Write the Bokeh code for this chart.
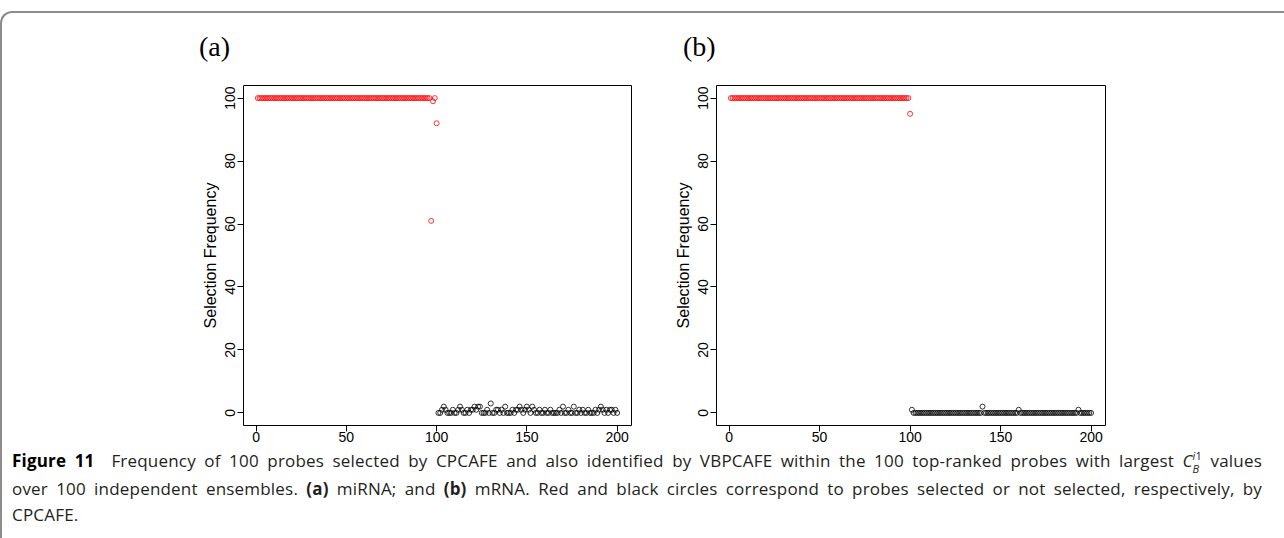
import numpy as np
from bokeh.plotting import figure
from bokeh.models import Div, FixedTicker, Range1d
from bokeh.layouts import column, row
from bokeh.embed import file_html
from bokeh.resources import INLINE

# ---------------- data ----------------
x_red = list(range(1, 101))
x_black = list(range(101, 201))

red_a = [100, 100, 100, 100, 100, 100, 100, 100, 100, 100,
         100, 100, 100, 100, 100, 100, 100, 100, 100, 100,
         100, 100, 100, 100, 100, 100, 100, 100, 100, 100,
         100, 100, 100, 100, 100, 100, 100, 100, 100, 100,
         100, 100, 100, 100, 100, 100, 100, 100, 100, 100,
         100, 100, 100, 100, 100, 100, 100, 100, 100, 100,
         100, 100, 100, 100, 100, 100, 100, 100, 100, 100,
         100, 100, 100, 100, 100, 100, 100, 100, 100, 100,
         100, 100, 100, 100, 100, 100, 100, 100, 100, 100,
         100, 100, 100, 100, 100, 100, 61, 99, 100, 92]
black_a = [0, 0, 1, 2, 1, 0, 0, 0, 1, 0,
           0, 1, 2, 1, 0, 0, 1, 0, 1, 1,
           2, 1, 2, 2, 0, 0, 0, 1, 0, 3,
           0, 0, 1, 1, 0, 1, 0, 2, 0, 0,
           0, 1, 0, 1, 1, 2, 1, 0, 1, 2,
           1, 0, 2, 1, 0, 0, 1, 0, 0, 1,
           0, 0, 1, 0, 0, 0, 0, 1, 0, 2,
           0, 0, 1, 0, 0, 2, 0, 0, 1, 0,
           1, 0, 0, 1, 0, 0, 0, 1, 0, 1,
           2, 1, 0, 1, 0, 1, 1, 0, 1, 0]
red_b = [100, 100, 100, 100, 100, 100, 100, 100, 100, 100,
         100, 100, 100, 100, 100, 100, 100, 100, 100, 100,
         100, 100, 100, 100, 100, 100, 100, 100, 100, 100,
         100, 100, 100, 100, 100, 100, 100, 100, 100, 100,
         100, 100, 100, 100, 100, 100, 100, 100, 100, 100,
         100, 100, 100, 100, 100, 100, 100, 100, 100, 100,
         100, 100, 100, 100, 100, 100, 100, 100, 100, 100,
         100, 100, 100, 100, 100, 100, 100, 100, 100, 100,
         100, 100, 100, 100, 100, 100, 100, 100, 100, 100,
         100, 100, 100, 100, 100, 100, 100, 100, 100, 95]
black_b = [1, 0, 0, 0, 0, 0, 0, 0, 0, 0,
           0, 0, 0, 0, 0, 0, 0, 0, 0, 0,
           0, 0, 0, 0, 0, 0, 0, 0, 0, 0,
           0, 0, 0, 0, 0, 0, 0, 0, 0, 2,
           0, 0, 0, 0, 0, 0, 0, 0, 0, 0,
           0, 0, 0, 0, 0, 0, 0, 0, 0, 1,
           0, 0, 0, 0, 0, 0, 0, 0, 0, 0,
           0, 0, 0, 0, 0, 0, 0, 0, 0, 0,
           0, 0, 0, 0, 0, 0, 0, 0, 0, 0,
           0, 0, 1, 0, 0, 0, 0, 0, 0, 0]

x_ticks = [0, 50, 100, 150, 200]
y_ticks = [0, 20, 40, 60, 80, 100]
panel_labels = ["(a)", "(b)"]
y_label = "Selection Frequency"

AX_FONT = "Liberation Sans"


def make_panel(red, black, width, height, bl, br, bt, bb):
    p = figure(width=width, height=height, title=None,
               x_range=Range1d(-6.96, 207.96), y_range=Range1d(-4, 104),
               output_backend="svg", toolbar_location=None,
               min_border_left=bl, min_border_right=br,
               min_border_top=bt, min_border_bottom=bb)
    p.grid.visible = False
    p.outline_line_color = "black"
    p.outline_line_width = 1
    p.background_fill_color = "white"
    p.border_fill_color = "white"

    for ax in (p.xaxis[0], p.yaxis[0]):
        ax.axis_line_color = None
        ax.major_tick_line_color = "black"
        ax.major_tick_in = 0
        ax.major_tick_out = 6
        ax.minor_tick_line_color = None
        ax.major_label_text_font = AX_FONT
        ax.major_label_text_font_size = "14px"
        ax.major_label_text_color = "black"
    p.xaxis.ticker = FixedTicker(ticks=x_ticks)
    p.yaxis.ticker = FixedTicker(ticks=y_ticks)
    p.xaxis.major_label_standoff = 0
    p.yaxis.major_label_standoff = 2
    p.yaxis.major_label_orientation = "vertical"
    p.yaxis.axis_label = y_label
    p.yaxis.axis_label_text_font = AX_FONT
    p.yaxis.axis_label_text_font_size = "16px"
    p.yaxis.axis_label_text_font_style = "normal"
    p.yaxis.axis_label_text_color = "black"
    p.yaxis.axis_label_standoff = 4

    p.scatter(x_red, red, marker="circle", size=5, fill_color=None,
              line_color="#ff0000", line_width=0.8)
    p.scatter(x_black, black, marker="circle", size=5, fill_color=None,
              line_color="black", line_width=0.8)
    return p


TOP_H = 50
fa = make_panel(red_a, black_a, 660, 435 - TOP_H, 241, 31, 72 - TOP_H, 23)
fb = make_panel(red_b, black_b, 622, 435 - TOP_H, 54, 179, 72 - TOP_H, 23)

labels_html = (
    f'<div style="position:relative;width:1270px;height:{TOP_H}px;'
    'font-family:\'Liberation Serif\';font-size:28px;line-height:1;color:#000;">'
    f'<span style="position:absolute;left:197px;top:20px;">{panel_labels[0]}</span>'
    f'<span style="position:absolute;left:681px;top:20px;">{panel_labels[1]}</span>'
    '</div>'
)
top = Div(text=labels_html, width=1270, height=TOP_H, margin=0)

stack = ('<span style="display:inline-block;vertical-align:-0.55em;line-height:1.15;'
         'font-size:11px;text-align:left;"><i>i</i>1<br><i>B</i></span>')
line_style = "text-align:justify;text-align-last:justify;white-space:nowrap;"
caption = (
    '<div style="box-sizing:border-box;width:1255px;padding-left:5px;margin-top:-5px;'
    'font-family:\'Open Sans\';font-size:17px;letter-spacing:0.2px;line-height:26px;color:#231f20;">'
    f'<div style="{line_style}"><b style="color:#000">Figure 11</b>&nbsp; Frequency of 100 probes selected by '
    'CPCAFE and also identified by VBPCAFE within the 100 top-ranked probes with largest '
    f'<i>C</i>{stack} values</div>'
    f'<div style="{line_style}">over 100 independent ensembles. <b>(a)</b> miRNA; and <b>(b)</b> mRNA. '
    'Red and black circles correspond to probes selected or not selected, respectively, by</div>'
    '<div>CPCAFE.</div>'
    '</div>'
)
cap = Div(text=caption, width=1270, height=88)

layout = column(top, row(fa, fb), cap,
                styles={"border-top": "2px solid #8c8c8c",
                        "border-left": "2px solid #8c8c8c",
                        "border-top-left-radius": "12px",
                        "margin-top": "11px",
                        "background-color": "white"})

open("out.html", "w").write(file_html(layout, INLINE))
